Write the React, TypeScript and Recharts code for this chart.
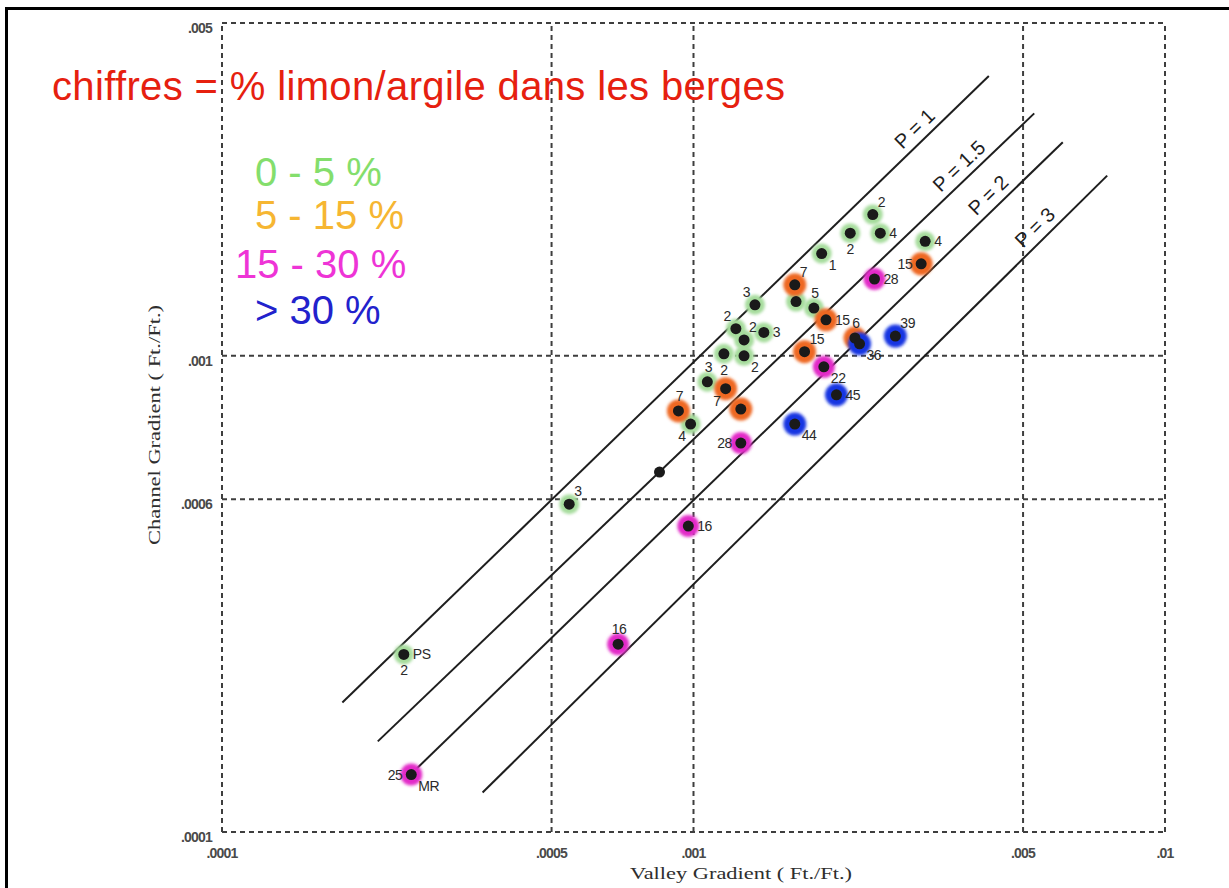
import React from 'react';
import { ScatterChart, Scatter, XAxis, YAxis, ReferenceLine } from 'recharts';

type Site = { id: string; valley: number; channel: number; label?: string; site?: string };

// Stream sites grouped by silt/clay content in the banks
const finesUnder5: Site[] = [
  { id: 'g1', valley: 0.0024, channel: 0.00198, label: '2' },
  { id: 'g2', valley: 0.00215, channel: 0.00181, label: '2' },
  { id: 'g3', valley: 0.00249, channel: 0.00181, label: '4' },
  { id: 'g4', valley: 0.00187, channel: 0.00164, label: '1' },
  { id: 'g5', valley: 0.0031, channel: 0.00174, label: '4' },
  { id: 'g6', valley: 0.00135, channel: 0.00128, label: '3' },
  { id: 'g7', valley: 0.00165, channel: 0.0013 },
  { id: 'g8', valley: 0.0018, channel: 0.00126, label: '5' },
  { id: 'g9', valley: 0.00123, channel: 0.00114, label: '2' },
  { id: 'g10', valley: 0.00128, channel: 0.00108, label: '2' },
  { id: 'g11', valley: 0.00141, channel: 0.00112, label: '3' },
  { id: 'g12', valley: 0.00116, channel: 0.00101, label: '2' },
  { id: 'g13', valley: 0.00128, channel: 0.001, label: '2' },
  { id: 'g14', valley: 0.00107, channel: 0.000882, label: '3' },
  { id: 'g15', valley: 0.000986, channel: 0.000719, label: '4' },
  { id: 'g16', valley: 0.000545, channel: 0.000488, label: '3' },
  { id: 'g17', valley: 0.000243, channel: 0.000236, label: '2', site: 'PS' },
];

const fines5to15: Site[] = [
  { id: 'o1', valley: 0.00304, channel: 0.00156, label: '15' },
  { id: 'o2', valley: 0.00164, channel: 0.00141, label: '7' },
  { id: 'o3', valley: 0.00191, channel: 0.00119, label: '15' },
  { id: 'o4', valley: 0.0022, channel: 0.00109, label: '6' },
  { id: 'o5', valley: 0.00172, channel: 0.00102, label: '15' },
  { id: 'o6', valley: 0.00117, channel: 0.000853, label: '7' },
  { id: 'o7', valley: 0.000929, channel: 0.000766, label: '7' },
  { id: 'o8', valley: 0.00126, channel: 0.000773 },
];

const fines15to30: Site[] = [
  { id: 'm1', valley: 0.00242, channel: 0.00145, label: '28' },
  { id: 'm2', valley: 0.00189, channel: 0.000948, label: '22' },
  { id: 'm3', valley: 0.00126, channel: 0.000656, label: '28' },
  { id: 'm4', valley: 0.000975, channel: 0.000439, label: '16' },
  { id: 'm5', valley: 0.000692, channel: 0.000248, label: '16' },
  { id: 'm6', valley: 0.000252, channel: 0.000132, label: '25', site: 'MR' },
];

const finesOver30: Site[] = [
  { id: 'b1', valley: 0.00225, channel: 0.00106, label: '36' },
  { id: 'b2', valley: 0.00268, channel: 0.0011, label: '39' },
  { id: 'b3', valley: 0.00201, channel: 0.000828, label: '45' },
  { id: 'b4', valley: 0.00164, channel: 0.000719, label: '44' },
];

const unclassed: Site[] = [{ id: 'u1', valley: 0.000847, channel: 0.00057 }];

// Sinuosity lines P = valley gradient / channel gradient
const sinuosityLabels = ['P = 1', 'P = 1.5', 'P = 2', 'P = 3'];
const sinuosityStart = [
  { x: 0.00018, y: 0.000187 },
  { x: 0.000214, y: 0.000155 },
  { x: 0.000255, y: 0.000134 },
  { x: 0.000357, y: 0.000121 },
];
const sinuosityEnd = [
  { x: 0.00423, y: 0.00387 },
  { x: 0.00528, y: 0.00323 },
  { x: 0.00607, y: 0.00281 },
  { x: 0.00754, y: 0.00239 },
];

const xTicks = [0.0001, 0.0005, 0.001, 0.005, 0.01];
const xTickLabels = ['.0001', '.0005', '.001', '.005', '.01'];
const yTicks = [0.0001, 0.0005, 0.001, 0.005];
const yTickLabels = ['.0001', '.0006', '.001', '.005'];

const legendTitle = 'chiffres = % limon/argile dans les berges';
const legendClasses = ['0 - 5 %', '5 - 15 %', '15 - 30 %', '> 30 %'];

// ---- styling ----
const W = 1229;
const H = 888;
const classColors = ['#a6dc9c', '#ee6820', '#e22ac8', '#1836e2'];
const legendColors = ['#84de6c', '#f6b632', '#ee34d6', '#2222cc'];
const haloRadius = [10, 11.5, 11, 11.5];

// where each number sits relative to its dot
const labelSpot: Record<string, string> = {
  g1: 'ne', g2: 's', g3: 'e', g4: 'se', g5: 'e', g6: 'nw', g8: 'n', g9: 'nw', g10: 'ne',
  g11: 'e', g12: 's', g13: 'se', g14: 'n', g15: 'sw', g16: 'ne', g17: 's',
  o1: 'w', o2: 'ne', o3: 'e', o4: 'n', o5: 'ne', o6: 'sw', o7: 'n',
  m1: 'e', m2: 'se', m3: 'w', m4: 'e', m5: 'n', m6: 'w',
  b1: 'se', b2: 'ne', b3: 'e', b4: 'se',
};
const siteSpot: Record<string, string> = { g17: 'e', m6: 'se' };

const spots: Record<string, { anchor: 'start' | 'middle' | 'end'; dx: number; dy: number }> = {
  n: { anchor: 'middle', dx: 1, dy: -10 },
  ne: { anchor: 'start', dx: 5, dy: -8 },
  e: { anchor: 'start', dx: 9, dy: 5 },
  se: { anchor: 'start', dx: 7, dy: 16 },
  s: { anchor: 'middle', dx: 0, dy: 21 },
  sw: { anchor: 'end', dx: -5, dy: 17 },
  w: { anchor: 'end', dx: -9, dy: 5 },
  nw: { anchor: 'end', dx: -5, dy: -8 },
};

const allSites: Site[] = [...finesUnder5, ...fines5to15, ...fines15to30, ...finesOver30, ...unclassed];
const siteClasses = [finesUnder5, fines5to15, fines15to30, finesOver30];

const labelFont = {
  fontFamily: 'Liberation Sans, Arial, sans-serif',
  fontSize: 14,
  fill: '#2a2a2a',
  letterSpacing: -0.5,
};

function makeHalo(color: string, r: number) {
  return (props: any) => {
    const { cx, cy } = props;
    if (cx == null || cy == null) return <g />;
    return <circle cx={cx} cy={cy} r={r} fill={color} filter="url(#haloSoft)" />;
  };
}

function SiteDot(props: any) {
  const { cx, cy, payload } = props;
  if (cx == null || cy == null) return <g />;
  const s = payload.label ? spots[labelSpot[payload.id]] : null;
  const t = payload.site ? spots[siteSpot[payload.id]] : null;
  return (
    <g>
      <circle cx={cx} cy={cy} r={5.5} fill="#1a1a1a" />
      {s && (
        <text x={cx + s.dx} y={cy + s.dy} textAnchor={s.anchor} {...labelFont}>
          {payload.label}
        </text>
      )}
      {t && (
        <text x={cx + t.dx} y={cy + t.dy} textAnchor={t.anchor} {...labelFont}>
          {payload.site}
        </text>
      )}
    </g>
  );
}

function SinuosityLabel(props: any) {
  const vb = props.viewBox || {};
  let x1: number, y1: number, x2: number, y2: number;
  if (vb.x1 != null) {
    x1 = vb.x1; y1 = vb.y1; x2 = vb.x2; y2 = vb.y2;
    if (x1 > x2) { [x1, x2] = [x2, x1]; [y1, y2] = [y2, y1]; }
  } else {
    x1 = vb.x; y1 = vb.y + vb.height; x2 = vb.x + vb.width; y2 = vb.y;
  }
  const t = 0.9;
  const px = x1 + (x2 - x1) * t;
  const py = y1 + (y2 - y1) * t;
  const angle = (Math.atan2(y2 - y1, x2 - x1) * 180) / Math.PI;
  return (
    <text
      x={px}
      y={py}
      dy={-7}
      transform={`rotate(${angle} ${px} ${py})`}
      textAnchor="middle"
      fontFamily="Liberation Sans, Arial, sans-serif"
      fontSize={20}
      fill="#1e1e1e"
    >
      {props.text}
    </text>
  );
}

const tickFont = {
  fontFamily: 'Liberation Sans, Arial, sans-serif',
  fontSize: 14,
  fontWeight: 700,
  fill: '#4a4a4a',
  letterSpacing: -0.8,
};

const XTick = (props: any) => {
  const { x, y, payload } = props;
  const i = xTicks.indexOf(payload.value);
  return (
    <text x={x} y={y + 20} textAnchor="middle" {...tickFont}>
      {xTickLabels[i]}
    </text>
  );
};

const YTick = (props: any) => {
  const { x, y, payload } = props;
  const i = yTicks.indexOf(payload.value);
  return (
    <text x={x - 4} y={y + 10} textAnchor="end" {...tickFont}>
      {yTickLabels[i]}
    </text>
  );
};

const grid = { stroke: '#3e3e3e', strokeWidth: 2, strokeDasharray: '5 4' };

export default function App() {
  return (
    <div style={{ position: 'absolute', left: 0, top: 0, width: W, height: H, background: '#fff', overflow: 'hidden' }}>
      <svg width={0} height={0} style={{ position: 'absolute' }}>
        <defs>
          <filter id="haloSoft" x="-60%" y="-60%" width="220%" height="220%">
            <feGaussianBlur stdDeviation="1.5" />
          </filter>
        </defs>
      </svg>
      <div
        style={{
          position: 'absolute', left: 5, top: 7, width: W, height: H,
          borderTop: '3px solid #000', borderLeft: '3px solid #000', boxSizing: 'border-box',
        }}
      />
      <div style={{ position: 'absolute', left: 0, top: 0 }}>
        <ScatterChart width={W} height={H} margin={{ top: 23, right: 64, bottom: 26, left: 162 }}>
          <XAxis
            type="number"
            dataKey="valley"
            scale="log"
            domain={[0.0001, 0.01]}
            allowDataOverflow
            ticks={xTicks}
            height={30}
            axisLine={false}
            tickLine={false}
            tickMargin={0}
            tick={<XTick />}
          />
          <YAxis
            type="number"
            dataKey="channel"
            scale="log"
            domain={[0.0001, 0.005]}
            allowDataOverflow
            ticks={yTicks}
            width={60}
            axisLine={false}
            tickLine={false}
            tickMargin={0}
            tick={<YTick />}
          />
          {xTicks.map((v) => (
            <ReferenceLine key={'vx' + v} x={v} {...grid} ifOverflow="visible" />
          ))}
          {[0.0001, 0.0005, 0.001, 0.005].map((v) => (
            <ReferenceLine key={'hy' + v} y={v} {...grid} ifOverflow="visible" />
          ))}
          {sinuosityLabels.map((lab, i) => (
            <ReferenceLine
              key={lab}
              segment={[sinuosityStart[i], sinuosityEnd[i]]}
              stroke="#1e1e1e"
              strokeWidth={2}
              ifOverflow="visible"
              label={(p: any) => <SinuosityLabel {...p} text={lab} />}
            />
          ))}
          {siteClasses.map((data, i) => (
            <Scatter
              key={'halo' + i}
              data={data}
              isAnimationActive={false}
              shape={makeHalo(classColors[i], haloRadius[i])}
            />
          ))}
          <Scatter data={allSites} isAnimationActive={false} shape={(p: any) => <SiteDot {...p} />} />
        </ScatterChart>
      </div>
      <svg width={W} height={H} style={{ position: 'absolute', left: 0, top: 0, pointerEvents: 'none' }}>
        <text x={52} y={100} fontFamily="Liberation Sans, Arial, sans-serif" fontSize={40} fill="#e6200f" textLength={733} lengthAdjust="spacing">
          {legendTitle}
        </text>
        {legendClasses.map((txt, i) => (
          <text
            key={txt}
            x={i === 2 ? 235 : 255}
            y={[186, 229, 278, 324][i]}
            fontFamily="Liberation Sans, Arial, sans-serif"
            fontSize={40}
            fill={legendColors[i]}
          >
            {txt}
          </text>
        ))}
        <text x={741} y={879} textAnchor="middle" fontFamily="Liberation Serif, Times New Roman, serif" fontSize={17} fill="#2e2e2e" textLength={222} lengthAdjust="spacingAndGlyphs">
          Valley Gradient ( Ft./Ft.)
        </text>
        <text
          x={160}
          y={425}
          transform="rotate(-90 160 425)"
          textAnchor="middle"
          fontFamily="Liberation Serif, Times New Roman, serif"
          fontSize={17}
          fill="#2e2e2e"
          textLength={240}
          lengthAdjust="spacingAndGlyphs"
        >
          Channel Gradient ( Ft./Ft.)
        </text>
      </svg>
    </div>
  );
}
